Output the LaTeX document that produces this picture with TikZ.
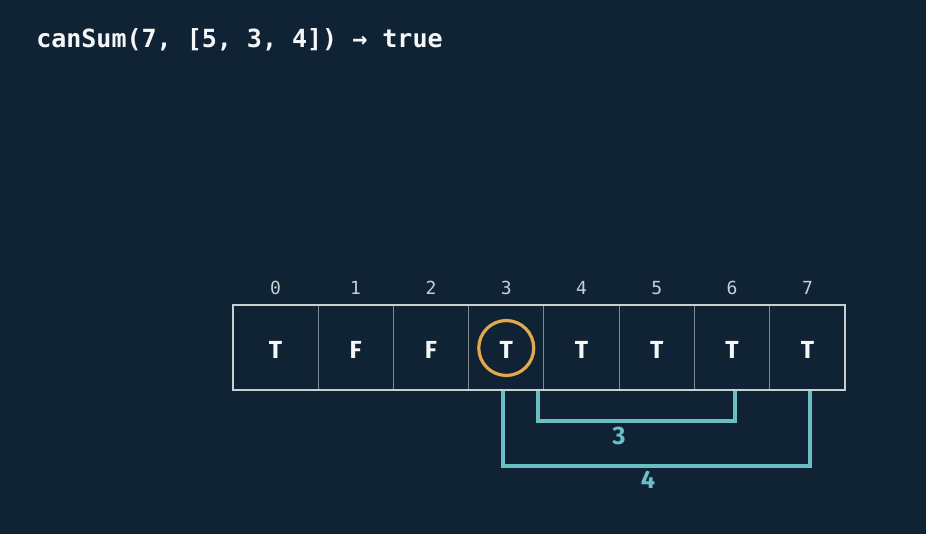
\documentclass[tikz,border=0pt]{standalone}
\usepackage{fontspec}
\setmainfont{Fira Sans}
\newfontfamily\codefont{DejaVu Sans Mono}
\usetikzlibrary{calc}
\definecolor{bgnavy}{RGB}{16,35,52}
\definecolor{chalk}{RGB}{244,246,247}
\definecolor{rimgray}{RGB}{201,206,211}
\definecolor{wallgray}{RGB}{127,138,147}
\definecolor{pickgold}{RGB}{227,169,76}
\definecolor{jumpteal}{RGB}{108,190,197}
\begin{document}
\begin{tikzpicture}[x=0.75pt,y=-0.75pt,
	cellval/.style={text=chalk,font=\bfseries\fontsize{18.5}{18}\selectfont,inner sep=0pt},
	idx/.style={text=rimgray,font=\codefont\fontsize{13.5}{13}\selectfont,anchor=base,inner sep=0pt},
	jump/.style={jumpteal,line width=3pt},
	jumpval/.style={text=jumpteal,font=\bfseries\fontsize{19}{18}\selectfont,inner sep=0pt}]
		
		\fill[bgnavy] (0,0) rectangle (926,534);
		\node[anchor=base west,text=chalk,inner sep=0pt,font=\codefont\bfseries\fontsize{18.75}{18}\selectfont] (call) at (36,48) {canSum(7, [5, 3, 4]) → true};
		\node[draw=rimgray,line width=1.5pt,minimum width=459pt,minimum height=63.75pt,inner sep=0pt] (grid) at (539,347.5) {};
		\foreach \i in {1,...,7}
			\draw[wallgray,line width=0.75pt] (318+75.3*\i-75.3,306) -- (318+75.3*\i-75.3,389);
		\foreach \v [count=\i from 0] in {T,F,F,T,T,T,T,T} {
			\pgfmathsetmacro\cx{\i==0 ? 275.5 : 318+75.3*(\i-0.5)}
			\node[cellval] (c\i) at (\cx,350) {\v};
			\node[idx] (n\i) at (\cx,295) {\i};
		}
		\draw[pickgold,line width=2.4pt] (c3) ++(0,-2) circle[radius=20.6pt];
		\draw[jump] ($(c3 |- grid.south)+(31.5,0)$) -- ++(0,30) -| ($(c6 |- grid.south)+(2.5,0)$);
		\draw[jump] ($(c3 |- grid.south)+(-3.5,0)$) -- ++(0,75) -| ($(c7 |- grid.south)+(2.5,0)$);
		\node[jumpval] (three) at (619,435.5) {3};
		\node[jumpval] (four) at (648,480) {4};
		\end{tikzpicture}
\end{document}
